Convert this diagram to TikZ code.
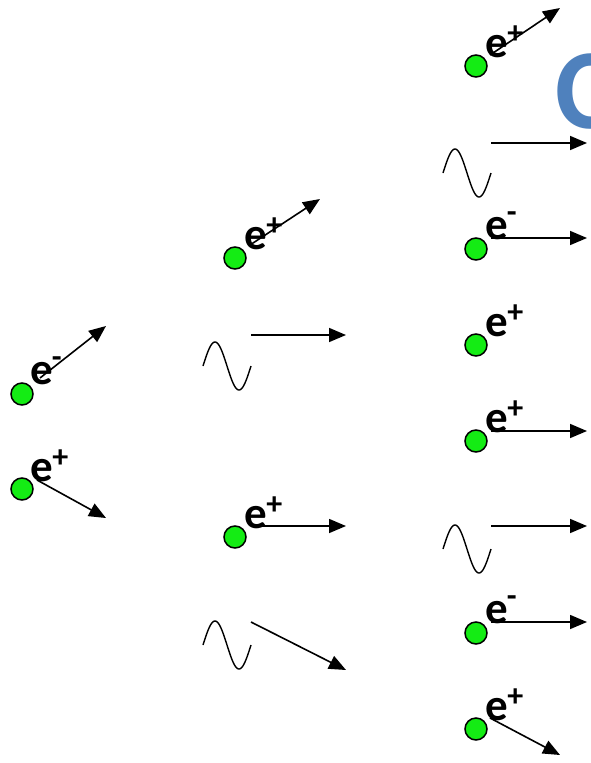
\documentclass[tikz,border=0pt]{standalone}
\usepackage{fontspec}
\setmainfont{Carlito}
\usetikzlibrary{arrows.meta,calc}
\definecolor{leptongreen}{RGB}{20,236,20}
\definecolor{titleblue}{RGB}{79,129,189}
\newcommand{\posi}{e\kern-0.5pt\raisebox{0.3em}{\fontsize{32}{32}\selectfont +}}
\newcommand{\elec}{e\kern-1pt\raisebox{0.36em}{\fontsize{32}{32}\selectfont -}}
\tikzset{
  lepton/.style={circle,draw=black,line width=1.5pt,fill=leptongreen,
    minimum size=22pt,inner sep=0pt},
  charge/.style={font=\fontsize{45}{45}\selectfont\bfseries,inner sep=0pt,
    anchor=base west},
  track/.style={line width=1.6pt,-{Triangle[length=17pt,width=14pt]}},
  wave/.style={line width=1.4pt},
}
\begin{document}
\begin{tikzpicture}[x=1pt,y=-1pt]
\useasboundingbox (0,0) rectangle (590,763);
\begin{scope}
\clip (0,0) rectangle (590,763);
\node[font=\fontsize{114}{114}\selectfont\bfseries,text=titleblue,
  inner sep=0pt,anchor=base west] (title) at (555,128) {C};
\end{scope}

% photon: one period of a sine wave, left end at (#1,#2)
\newcommand{\photon}[2]{%
  \draw[wave,domain=0:48,samples=60,smooth]
    plot ({#1+\x},{#2-24*sin(7.5*\x)});}

% first generation
\node[lepton] (m1) at (22,394) {};
\node[charge] (lm1) at (30,384) {\elec};
\coordinate (m1s) at (40,378); \coordinate (m1e) at (106,326);
\draw[track] (m1s) -- (m1e);

\node[lepton] (p1) at (22,489) {};
\node[charge] (lp1) at (30,481) {\posi};
\coordinate (p1s) at (37,480); \coordinate (p1e) at (106,518);
\draw[track] (p1s) -- (p1e);

% second generation
\node[lepton] (p2) at (235,258) {};
\node[charge] (lp2) at (244,249) {\posi};
\coordinate (p2s) at (250,245); \coordinate (p2e) at (320,199);
\draw[track] (p2s) -- (p2e);

\photon{203}{366}
\coordinate (g2s) at (251,335); \coordinate (g2e) at (346,335);
\draw[track] (g2s) -- (g2e);

\node[lepton] (p3) at (235,537) {};
\node[charge] (lp3) at (244,528) {\posi};
\coordinate (p3s) at (255,526); \coordinate (p3e) at (346,526);
\draw[track] (p3s) -- (p3e);

\photon{203}{645}
\coordinate (g3s) at (251,622); \coordinate (g3e) at (346,670);
\draw[track] (g3s) -- (g3e);

% third generation
\node[lepton] (p4) at (476,66) {};
\node[charge] (lp4) at (485,57) {\posi};
\coordinate (p4s) at (490,55); \coordinate (p4e) at (560,8);
\draw[track] (p4s) -- (p4e);

\photon{443}{173}
\coordinate (g4s) at (491,143); \coordinate (g4e) at (587,143);
\draw[track] (g4s) -- (g4e);

\node[lepton] (m4) at (476,249) {};
\node[charge] (lm4) at (485,239) {\elec};
\coordinate (m4s) at (491,238); \coordinate (m4e) at (587,238);
\draw[track] (m4s) -- (m4e);

\node[lepton] (p5) at (476,345) {};
\node[charge] (lp5) at (485,336) {\posi};

\node[lepton] (p6) at (476,441) {};
\node[charge] (lp6) at (485,432) {\posi};
\coordinate (p6s) at (491,431); \coordinate (p6e) at (587,431);
\draw[track] (p6s) -- (p6e);

\photon{443}{549}
\coordinate (g6s) at (491,526); \coordinate (g6e) at (587,526);
\draw[track] (g6s) -- (g6e);

\node[lepton] (m6) at (476,633) {};
\node[charge] (lm6) at (485,623) {\elec};
\coordinate (m6s) at (491,622); \coordinate (m6e) at (587,622);
\draw[track] (m6s) -- (m6e);

\node[lepton] (p7) at (476,729) {};
\node[charge] (lp7) at (485,720) {\posi};
\coordinate (p7s) at (490,718); \coordinate (p7e) at (560,755);
\draw[track] (p7s) -- (p7e);
\end{tikzpicture}
\end{document}
